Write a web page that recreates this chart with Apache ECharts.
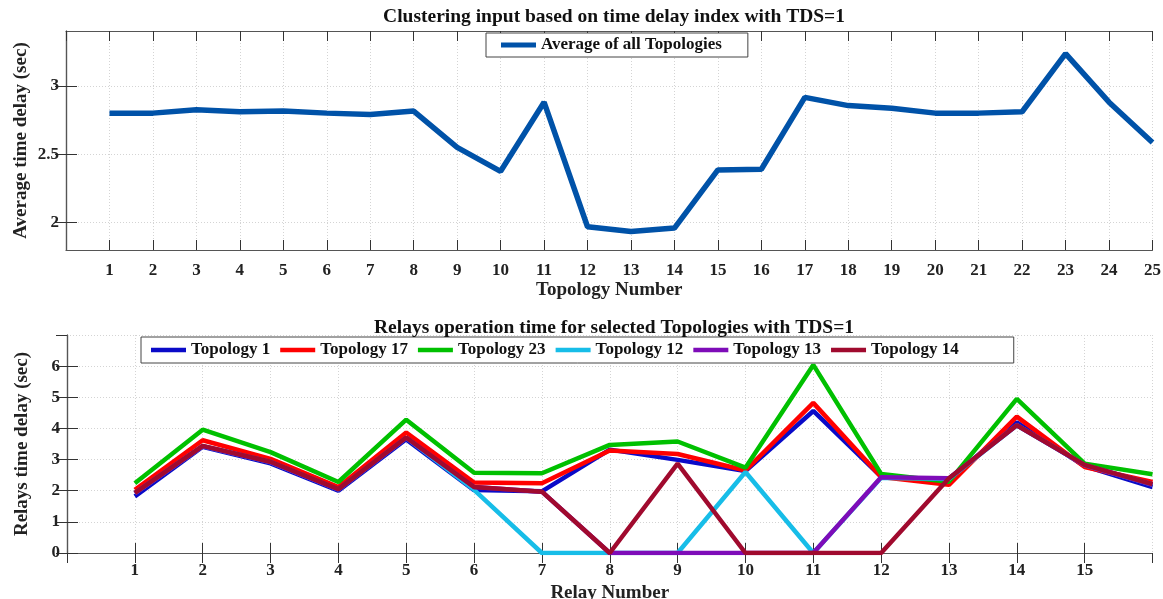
<!DOCTYPE html>
<html>
<head>
<meta charset="utf-8">
<script src="https://cdn.jsdelivr.net/npm/echarts@6/dist/echarts.min.js"></script>
<style>
  html, body { margin: 0; padding: 0; background: #fff; }
  #chart { width: 1163px; height: 599px; }
</style>
</head>
<body>
<div id="chart"></div>
<script>
// Top panel: average time delay for each of the 25 topologies
const topologyNumbers = [1,2,3,4,5,6,7,8,9,10,11,12,13,14,15,16,17,18,19,20,21,22,23,24,25];
const averageDelay = [2.80, 2.80, 2.825, 2.81, 2.815, 2.80, 2.79, 2.815, 2.55, 2.375, 2.88, 1.97, 1.935, 1.96, 2.385, 2.39, 2.915, 2.855, 2.835, 2.80, 2.80, 2.81, 3.235, 2.88, 2.585];

// Bottom panel: relay operation times for selected topologies
const relayNumbers = [1,2,3,4,5,6,7,8,9,10,11,12,13,14,15,16];
const topology1  = [1.82, 3.41, 2.88, 2.00, 3.65, 2.02, 1.98, 3.32, 2.99, 2.63, 4.56, 2.45, 2.35, 4.19, 2.79, 2.12];
const topology17 = [2.03, 3.62, 3.02, 2.12, 3.87, 2.26, 2.24, 3.29, 3.18, 2.65, 4.82, 2.44, 2.19, 4.38, 2.76, 2.28];
const topology23 = [2.24, 3.96, 3.24, 2.28, 4.28, 2.58, 2.56, 3.47, 3.58, 2.74, 6.04, 2.54, 2.29, 4.95, 2.87, 2.53];
const topology12 = [1.92, 3.43, 2.92, 2.04, 3.70, 2.03, 0.00, 0.00, 0.00, 2.60, 0.00, 2.42, 2.38, 4.10, 2.82, 2.20];
const topology13 = [1.92, 3.43, 2.92, 2.04, 3.70, 2.12, 1.97, 0.00, 0.00, 0.00, 0.00, 2.43, 2.40, 4.10, 2.82, 2.20];
const topology14 = [1.93, 3.44, 2.93, 2.05, 3.71, 2.12, 1.97, 0.00, 2.87, 0.00, 0.00, 0.00, 2.40, 4.10, 2.83, 2.21];

const topYTicks = [2, 2.5, 3];

const FONT = '"Liberation Serif", "Times New Roman", serif';
const pairs = (xs, ys) => xs.map((x, i) => [x, ys[i]]);

const axisLineStyle = { color: '#555', width: 1.2 };
const tickStyle = { color: '#333', width: 1 };
const gridStyle = { color: '#d4d4d4', type: [1, 2], width: 1 };
const labelFont = { fontFamily: FONT, fontWeight: 'bold', fontSize: 17, color: '#222' };
const nameFont = { fontFamily: FONT, fontWeight: 'bold', fontSize: 19, color: '#222' };
const legendFont = { fontFamily: FONT, fontWeight: 'bold', fontSize: 17, color: '#111' };
const titleFont = { fontFamily: FONT, fontWeight: 'bold', fontSize: 19.5, color: '#111' };

function xMain(gridIndex, max, name, hideLast, margin, nameGap) {
  return {
    type: 'value', gridIndex, min: 0, max, interval: 1, position: 'bottom',
    name, nameLocation: 'middle', nameGap, nameMoveOverlap: false, nameTextStyle: nameFont,
    axisLine: { show: true, lineStyle: axisLineStyle },
    axisTick: { show: true, inside: true, length: 10, lineStyle: tickStyle },
    axisLabel: Object.assign({ margin, showMinLabel: false, showMaxLabel: !hideLast,
      formatter: v => (v === 0 || (hideLast && v === max)) ? '' : String(v) }, labelFont),
    splitLine: { show: true, lineStyle: gridStyle }
  };
}
function xTop(gridIndex, max) {
  return {
    type: 'value', gridIndex, min: 0, max, interval: 1, position: 'top',
    axisLine: { show: true, lineStyle: axisLineStyle },
    axisTick: { show: true, inside: true, length: 10, lineStyle: tickStyle },
    axisLabel: { show: false }, splitLine: { show: false }
  };
}

const option = {
  animation: false,
  backgroundColor: '#fff',
  title: [
    { text: 'Clustering input based on time delay index with TDS=1', left: 609, top: 2, textAlign: 'center',
      textStyle: titleFont },
    { text: 'Relays operation time for selected Topologies with TDS=1', left: 609, top: 313, textAlign: 'center',
      textStyle: titleFont }
  ],
  legend: [
    { data: ['Average of all Topologies'], left: 486, top: 33, orient: 'horizontal',
      icon: 'rect', itemWidth: 35, itemHeight: 5, itemGap: 11, padding: [3.5, 26, 3.5, 15],
      backgroundColor: '#fff', borderColor: '#444', borderWidth: 1, borderRadius: 0,
      textStyle: legendFont },
    { data: ['Topology 1', 'Topology 17', 'Topology 23', 'Topology 12', 'Topology 13', 'Topology 14'],
      left: 141, top: 337, orient: 'horizontal',
      icon: 'rect', itemWidth: 35, itemHeight: 4.5, itemGap: 10, padding: [4.5, 55, 4.5, 10],
      backgroundColor: '#fff', borderColor: '#444', borderWidth: 1, borderRadius: 0,
      textStyle: legendFont }
  ],
  grid: [
    { left: 66, right: 10.5, top: 31, height: 219, outerBoundsMode: 'none', containLabel: false },
    { left: 67, right: 10.5, top: 335, height: 218, outerBoundsMode: 'none', containLabel: false }
  ],
  xAxis: [
    xMain(0, 25, 'Topology Number', false, 12, 31),
    xTop(0, 25),
    xMain(1, 16, 'Relay Number', true, 9, 31),
    xTop(1, 16)
  ],
  yAxis: [
    { type: 'value', gridIndex: 0, min: 1.8, max: 3.4, position: 'left',
      name: 'Average time delay (sec)', nameLocation: 'middle', nameGap: 35, nameMoveOverlap: false, nameTextStyle: nameFont,
      axisLine: { show: true, lineStyle: axisLineStyle },
      axisTick: { show: true, inside: true, length: 11, lineStyle: tickStyle, customValues: topYTicks },
      axisLabel: Object.assign({ margin: 7, customValues: topYTicks }, labelFont),
      splitLine: { show: true, lineStyle: gridStyle } },
    { type: 'value', gridIndex: 0, min: 1.8, max: 3.4, position: 'right',
      axisLine: { show: true, lineStyle: axisLineStyle },
      axisTick: { show: true, inside: true, length: 11, lineStyle: tickStyle, customValues: topYTicks },
      axisLabel: { show: false }, splitLine: { show: false } },
    { type: 'value', gridIndex: 1, min: 0, max: 7, interval: 1, position: 'left',
      name: 'Relays time delay (sec)', nameLocation: 'middle', nameGap: 35, nameMoveOverlap: false, nameTextStyle: nameFont,
      axisLine: { show: true, lineStyle: axisLineStyle },
      axisTick: { show: true, inside: true, length: 11, lineStyle: tickStyle },
      axisLabel: Object.assign({ margin: 7, showMaxLabel: false, formatter: v => v === 7 ? '' : String(v) }, labelFont),
      splitLine: { show: true, lineStyle: gridStyle } },
    { type: 'value', gridIndex: 1, min: 0, max: 7, interval: 1, position: 'right',
      axisLine: { show: true, lineStyle: axisLineStyle },
      axisTick: { show: true, inside: true, length: 11, lineStyle: tickStyle },
      axisLabel: { show: false }, splitLine: { show: false } }
  ],
  series: [
    { name: 'Average of all Topologies', type: 'line', xAxisIndex: 0, yAxisIndex: 0,
      data: pairs(topologyNumbers, averageDelay), showSymbol: false, symbol: 'none',
      lineStyle: { color: '#0052A8', width: 5.5 }, itemStyle: { color: '#0052A8' } },
    { name: 'Topology 1', type: 'line', xAxisIndex: 2, yAxisIndex: 2,
      data: pairs(relayNumbers, topology1), symbol: 'none',
      lineStyle: { color: '#0A0AC8', width: 4.5 }, itemStyle: { color: '#0A0AC8' } },
    { name: 'Topology 17', type: 'line', xAxisIndex: 2, yAxisIndex: 2,
      data: pairs(relayNumbers, topology17), symbol: 'none',
      lineStyle: { color: '#FF0000', width: 4.5 }, itemStyle: { color: '#FF0000' } },
    { name: 'Topology 23', type: 'line', xAxisIndex: 2, yAxisIndex: 2,
      data: pairs(relayNumbers, topology23), symbol: 'none',
      lineStyle: { color: '#00C000', width: 4.5 }, itemStyle: { color: '#00C000' } },
    { name: 'Topology 12', type: 'line', xAxisIndex: 2, yAxisIndex: 2,
      data: pairs(relayNumbers, topology12), symbol: 'none',
      lineStyle: { color: '#17BDE8', width: 4.5 }, itemStyle: { color: '#17BDE8' } },
    { name: 'Topology 13', type: 'line', xAxisIndex: 2, yAxisIndex: 2,
      data: pairs(relayNumbers, topology13), symbol: 'none',
      lineStyle: { color: '#7E0CB8', width: 4.5 }, itemStyle: { color: '#7E0CB8' } },
    { name: 'Topology 14', type: 'line', xAxisIndex: 2, yAxisIndex: 2,
      data: pairs(relayNumbers, topology14), symbol: 'none',
      lineStyle: { color: '#A00A2E', width: 4.5 }, itemStyle: { color: '#A00A2E' } }
  ]
};

const chart = echarts.init(document.getElementById('chart'), null, { renderer: 'canvas' });
chart.setOption(option);
</script>
</body>
</html>
